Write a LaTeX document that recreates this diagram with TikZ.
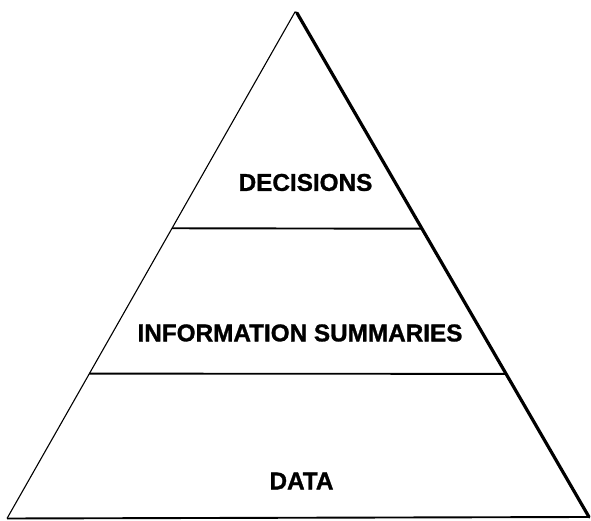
\documentclass[tikz,border=0pt]{standalone}
\usepackage{fontspec}
\setmainfont{Liberation Sans}[BoldFeatures={FakeBold=1.2}]
\usetikzlibrary{calc}
\begin{document}
\begin{tikzpicture}[x=1pt,y=1pt,
  lbl/.style={font=\bfseries\fontsize{24.3}{28}\selectfont, inner sep=0pt, anchor=center},
  thin edge/.style={line width=1.1pt, line join=miter},
  thick edge/.style={line width=3.2pt, line cap=round},
  tier/.style={line width=1.9pt}]
\useasboundingbox (0,0) rectangle (591,521);
\coordinate (apexL) at (295,509);
\coordinate (apexR) at (297,508);
\coordinate (BL) at (7,2.5);
\coordinate (BR) at (589,4);
\draw[thin edge] (BL) -- (apexL) -- (apexR);
\draw[thick edge] (apexR) -- (BR);
\draw[tier] (BL) -- (BR);
\coordinate (L1) at ($(apexL)!0.427!(BL)$);
\coordinate (R1) at ($(apexR)!0.428!(BR)$);
\coordinate (L2) at ($(apexL)!0.714!(BL)$);
\coordinate (R2) at ($(apexR)!0.716!(BR)$);
\draw[tier] (L1) -- (R1);
\draw[tier] (L2) -- (R2);
\node[lbl] (dec) at (305.5,338.5) {DECISIONS};
\node[lbl] (info) at (300,188) {INFORMATION SUMMARIES};
\node[lbl] (data) at (301.5,40) {DATA};
\end{tikzpicture}
\end{document}
